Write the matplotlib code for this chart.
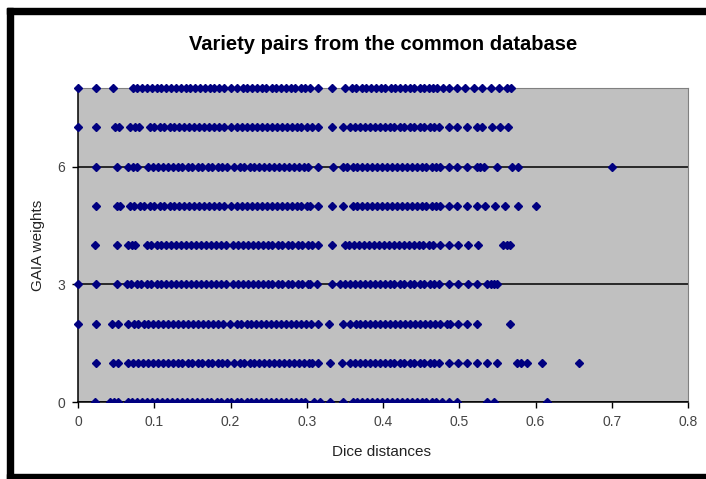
import matplotlib
matplotlib.use("Agg")
import matplotlib.pyplot as plt
from matplotlib.patches import Rectangle

# GAIA weight of each row of points
weights = [0, 1, 2, 3, 4, 5, 6, 7, 8]

# Dice distances, one list per weight
row0 = [0.022, 0.042, 0.047, 0.052,
        0.065, 0.071, 0.078, 0.084, 0.091, 0.097, 0.104, 0.11, 0.117, 0.123, 0.13, 0.136, 0.143, 0.149,
        0.156, 0.162, 0.169, 0.175, 0.182, 0.188, 0.195, 0.201, 0.208, 0.214, 0.221, 0.227, 0.234, 0.24,
        0.247, 0.253, 0.26, 0.266, 0.273, 0.279, 0.286, 0.292, 0.298,
        0.31, 0.318, 0.33, 0.348,
        0.36, 0.366, 0.373, 0.379, 0.386, 0.392, 0.399, 0.405, 0.412, 0.418, 0.425, 0.431, 0.438, 0.444,
        0.451, 0.457, 0.464, 0.47, 0.477, 0.486, 0.497, 0.536, 0.545, 0.615]
row1 = [0.024, 0.046, 0.052,
        0.066, 0.072, 0.079, 0.085, 0.092, 0.098, 0.105, 0.111, 0.118, 0.124, 0.131, 0.137, 0.144, 0.15,
        0.157, 0.163, 0.17, 0.176, 0.183, 0.189, 0.196, 0.205, 0.212, 0.218, 0.225, 0.231, 0.238, 0.244,
        0.251, 0.257, 0.264, 0.27, 0.277, 0.283, 0.29, 0.296, 0.303, 0.307,
        0.315, 0.331, 0.346,
        0.357, 0.363, 0.37, 0.376, 0.383, 0.389, 0.396, 0.402, 0.409, 0.415, 0.422, 0.428, 0.435, 0.441,
        0.448, 0.454, 0.461, 0.467,
        0.474, 0.486, 0.498, 0.51, 0.523, 0.536, 0.549, 0.576, 0.581, 0.589, 0.608, 0.657]
row2 = [0.0, 0.024, 0.044, 0.053,
        0.066, 0.073, 0.079, 0.086, 0.092, 0.099, 0.105, 0.112, 0.118, 0.125, 0.131, 0.138, 0.144, 0.151,
        0.157, 0.164, 0.17, 0.177, 0.183, 0.19, 0.199, 0.208, 0.214, 0.221, 0.227, 0.234, 0.24, 0.247,
        0.253, 0.26, 0.266, 0.273, 0.279, 0.286, 0.292, 0.299, 0.305,
        0.315, 0.329, 0.348,
        0.357, 0.364, 0.37, 0.377, 0.383, 0.39, 0.396, 0.403, 0.409, 0.416, 0.422, 0.429, 0.435, 0.442,
        0.448, 0.455, 0.461, 0.468, 0.475,
        0.484, 0.488, 0.498, 0.51, 0.523, 0.566]
row3 = [0.0, 0.024, 0.051,
        0.064, 0.07, 0.077, 0.083, 0.09, 0.096, 0.103, 0.109, 0.116, 0.122, 0.129, 0.135, 0.142, 0.148,
        0.155, 0.161, 0.168, 0.174, 0.181, 0.187, 0.194, 0.203, 0.21, 0.216, 0.223, 0.229, 0.236, 0.242,
        0.249, 0.255, 0.262, 0.268, 0.275, 0.281, 0.288, 0.294, 0.301, 0.304,
        0.313, 0.333,
        0.344, 0.35, 0.357, 0.363, 0.37, 0.376, 0.383, 0.389, 0.396, 0.402, 0.409, 0.415, 0.422, 0.428,
        0.435, 0.441, 0.448, 0.454, 0.461, 0.467,
        0.474, 0.486, 0.498, 0.511, 0.523, 0.536, 0.541, 0.545, 0.549]
row4 = [0.022, 0.051, 0.066, 0.071, 0.075,
        0.09, 0.096, 0.103, 0.109, 0.116, 0.122, 0.129, 0.135, 0.142, 0.148, 0.155, 0.161, 0.168, 0.174,
        0.181, 0.187, 0.194, 0.203, 0.21, 0.216, 0.223, 0.229, 0.236, 0.242, 0.249, 0.255, 0.262, 0.268,
        0.275, 0.281, 0.288, 0.294, 0.301, 0.307,
        0.315, 0.333, 0.35,
        0.356, 0.362, 0.369, 0.375, 0.382, 0.388, 0.395, 0.401, 0.408, 0.414, 0.421, 0.427, 0.434, 0.44,
        0.447, 0.453, 0.46, 0.466,
        0.475, 0.486, 0.498, 0.511, 0.525, 0.558, 0.563, 0.566]
row5 = [0.024, 0.051, 0.055,
        0.068, 0.074, 0.081, 0.087, 0.094, 0.1, 0.107, 0.113, 0.12, 0.126, 0.133, 0.139, 0.146, 0.152,
        0.159, 0.165, 0.172, 0.178, 0.185, 0.191, 0.2, 0.209, 0.215, 0.222, 0.228, 0.235, 0.241, 0.248,
        0.254, 0.261, 0.267, 0.274, 0.28, 0.287, 0.293, 0.3, 0.304,
        0.315, 0.333, 0.347,
        0.36, 0.366, 0.373, 0.379, 0.386, 0.392, 0.399, 0.405, 0.412, 0.418, 0.425, 0.431, 0.438, 0.444,
        0.451, 0.457, 0.464, 0.47,
        0.475, 0.486, 0.497, 0.51, 0.523, 0.534, 0.547, 0.56, 0.577, 0.6]
row6 = [0.024, 0.051, 0.066, 0.072, 0.077,
        0.092, 0.098, 0.105, 0.111, 0.118, 0.124, 0.131, 0.137, 0.144, 0.15, 0.157, 0.163, 0.17, 0.176,
        0.183, 0.189, 0.196, 0.205, 0.212, 0.218, 0.225, 0.231, 0.238, 0.244, 0.251, 0.257, 0.264, 0.27,
        0.277, 0.283, 0.29, 0.296, 0.302,
        0.315, 0.334, 0.347,
        0.353, 0.36, 0.366, 0.373, 0.379, 0.386, 0.392, 0.399, 0.405, 0.412, 0.418, 0.425, 0.431, 0.438,
        0.444, 0.451, 0.457, 0.464, 0.47,
        0.475, 0.486, 0.497, 0.51, 0.523, 0.527, 0.532, 0.549, 0.569, 0.577, 0.7]
row7 = [0.0, 0.024, 0.048, 0.054, 0.068, 0.075, 0.08,
        0.094, 0.1, 0.107, 0.113, 0.12, 0.126, 0.133, 0.139, 0.146, 0.152, 0.159, 0.165, 0.172, 0.178,
        0.185, 0.191, 0.2, 0.209, 0.215, 0.222, 0.228, 0.235, 0.241, 0.248, 0.254, 0.261, 0.267, 0.274,
        0.28, 0.287, 0.293, 0.3, 0.307,
        0.315, 0.333, 0.347,
        0.357, 0.363, 0.37, 0.376, 0.383, 0.389, 0.396, 0.402, 0.409, 0.415, 0.422, 0.428, 0.435, 0.441,
        0.448, 0.454, 0.461, 0.467,
        0.474, 0.486, 0.497, 0.51, 0.523, 0.53, 0.543, 0.553, 0.564]
row8 = [0.0, 0.024, 0.046,
        0.072, 0.078, 0.084, 0.09, 0.097, 0.103, 0.109, 0.116, 0.122, 0.128, 0.135, 0.141, 0.147, 0.154,
        0.16, 0.166, 0.173, 0.179, 0.185, 0.192, 0.2, 0.209, 0.216, 0.222, 0.228, 0.235, 0.241, 0.247,
        0.254, 0.26, 0.266, 0.273, 0.279, 0.285, 0.292, 0.298, 0.304,
        0.315, 0.333, 0.35,
        0.359, 0.365, 0.372, 0.378, 0.384, 0.391, 0.397, 0.403, 0.41, 0.416, 0.422, 0.429, 0.435, 0.441,
        0.448, 0.454, 0.46, 0.466, 0.471,
        0.479, 0.486, 0.497, 0.508, 0.519, 0.53, 0.541, 0.552, 0.563, 0.568]
rows = [row0, row1, row2, row3, row4, row5, row6, row7, row8]

x_ticks = [0, 0.1, 0.2, 0.3, 0.4, 0.5, 0.6, 0.7, 0.8]
x_labels = ["0", "0.1", "0.2", "0.3", "0.4", "0.5", "0.6", "0.7", "0.8"]
y_ticks = [0, 3, 6]

plt.rcParams['font.family'] = ['Liberation Sans', 'DejaVu Sans']

W, H = 706, 479
fig = plt.figure(figsize=(W / 100, H / 100), dpi=100)
fig.patch.set_facecolor('white')

# black frame bits (top, left, bottom)
for x0, y0, w, h in [(7, 8, 699, 6), (7, 8, 6, 471), (7, 474, 699, 5)]:
    fig.patches.append(Rectangle((x0 / W, 1 - (y0 + h) / H), w / W, h / H,
                                 transform=fig.transFigure, color='black', zorder=0))

ax = fig.add_axes([78 / W, 77 / H, 610 / W, 314 / H])
ax.set_facecolor('#C0C0C0')

for w, xs in zip(weights, rows):
    ax.plot(xs, [w] * len(xs), 'D', ms=4.0, color='#000080', mec='#000080', mew=1.0,
            clip_on=(w == 0), zorder=3)

ax.set_xlim(0, 0.8)
ax.set_ylim(0, 8)
ax.set_xticks(x_ticks)
ax.set_xticklabels(x_labels)
ax.set_yticks(y_ticks)

ax.yaxis.grid(True, color='black', linewidth=1.1)
ax.set_axisbelow(True)

for side in ['top', 'right']:
    ax.spines[side].set_color('#808080')
    ax.spines[side].set_linewidth(0.8)
for side in ['left', 'bottom']:
    ax.spines[side].set_color('black')
    ax.spines[side].set_linewidth(1.1)

ax.tick_params(direction='out', length=4, width=1, color='black',
               labelsize=10, labelcolor='#444444', pad=5)

fig.text(383 / W, 1 - 45 / H, 'Variety pairs from the common database', ha='center', va='center',
         fontsize=14.5, fontweight='bold', color='black')
fig.text(381 / W, 1 - 452 / H, 'Dice distances', ha='center', va='center', fontsize=11, color='#222222')
fig.text(38 / W, 1 - 245 / H, 'GAIA weights', ha='center', va='center', rotation=90,
         fontsize=11, color='#222222')

fig.savefig('out.png', dpi=100)
